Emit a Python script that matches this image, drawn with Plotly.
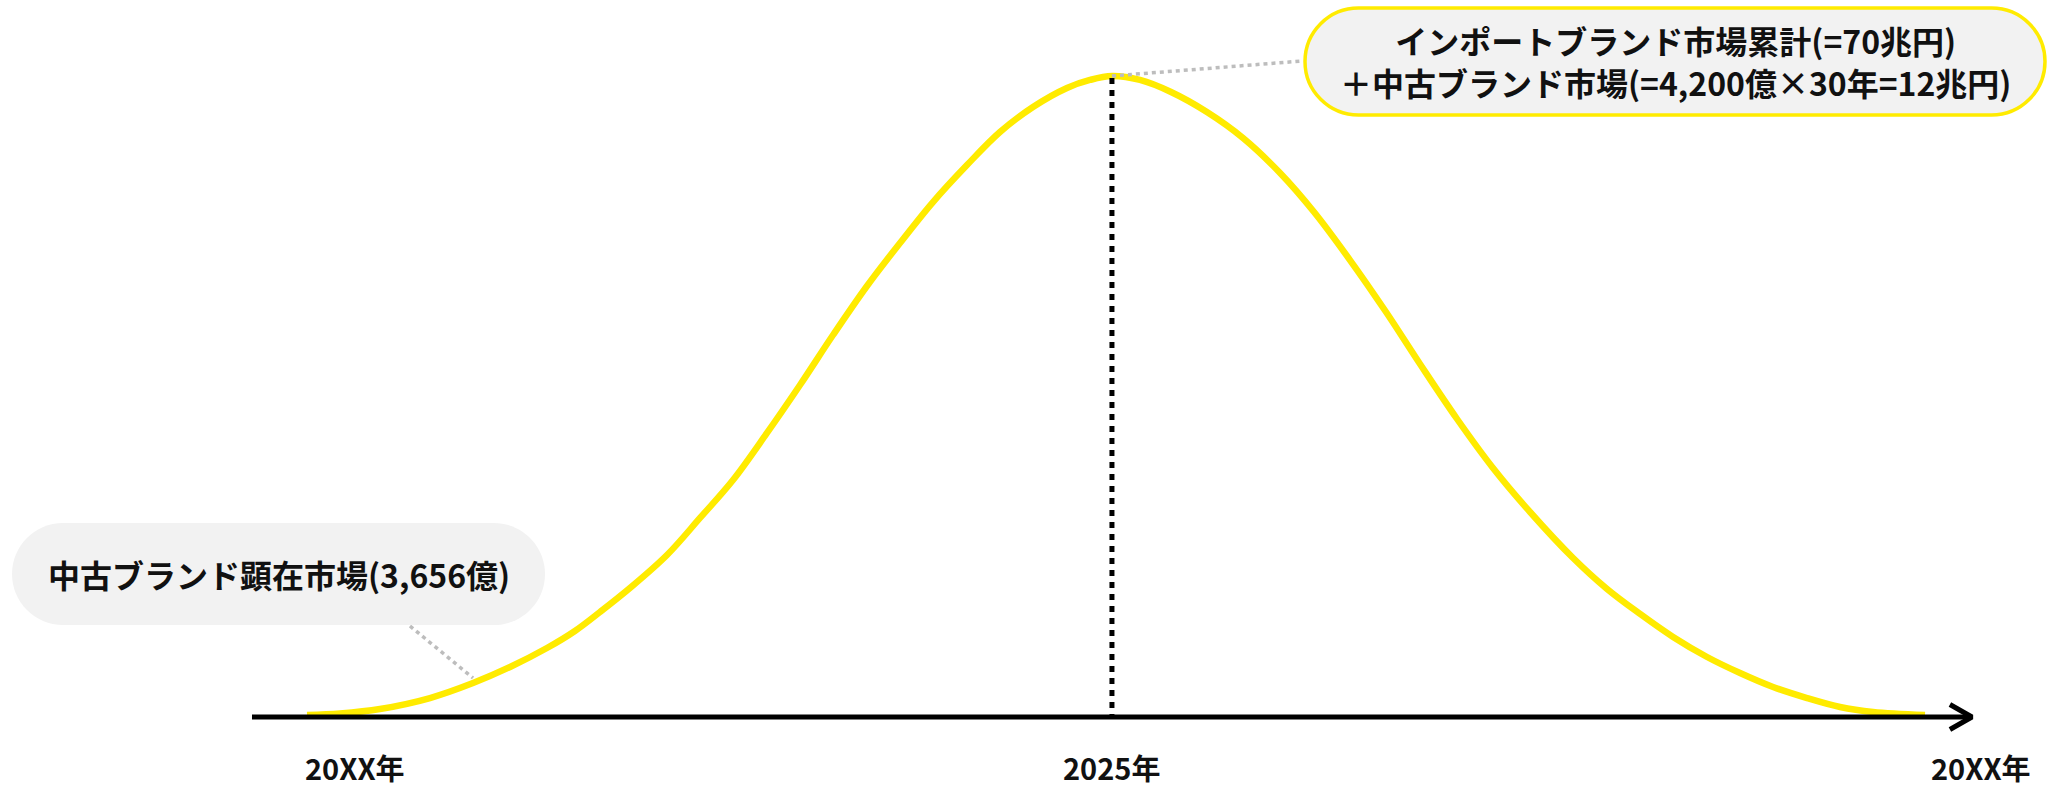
import plotly.graph_objects as go

W, H = 2047, 787

# ---- data (relative time index; relative market size, peak = 100) ----
time_idx = [0, 2.04, 4.51, 7.60, 10.26, 12.55, 14.83, 16.56, 18.11, 19.96, 22.25, 24.29,
            26.33, 28.43, 30.47, 32.51, 34.61, 36.65, 38.69, 40.79, 42.83, 44.87, 46.97,
            48.39, 49.75, 51.48, 53.40, 55.62, 57.85, 60.14, 62.24, 64.46, 66.69, 68.79,
            71.08, 73.30, 75.59, 78.25, 80.35, 82.39, 84.43, 86.53, 88.57, 90.61, 92.71,
            94.75, 96.79, 100]
market_size = [0.31, 0.55, 1.25, 2.96, 5.30, 7.80, 10.76, 13.42, 16.38, 20.12, 25.27, 31.05,
               36.97, 44.31, 51.79, 59.59, 67.24, 73.95, 80.34, 86.11, 91.26, 95.16, 98.13,
               99.38, 100, 99.38, 97.50, 94.38, 90.33, 84.87, 78.78, 71.29, 63.18, 55.07,
               46.49, 38.85, 31.98, 24.80, 19.97, 16.07, 12.48, 9.36, 6.86, 4.68, 2.96,
               1.56, 0.78, 0.31]
peak_time = 49.75
peak_value = 100
tick_times = [2.97, 49.75, 103.46]
tick_labels = ["20XX年", "2025年", "20XX年"]
axis_start, axis_end = -3.40, 102.90
left_label = "中古ブランド顕在市場(3,656億)"
right_label = ["インポートブランド市場累計(=70兆円)", "＋中古ブランド市場(=4,200億×30年=12兆円)"]

# ---- pixel <-> data helpers (layout only) ----
X0, KX = 307.0, 16.18
Y0, KY = 717.0, 6.41
def dx(px):
    return (px - X0) / KX
def dy(py):
    return (Y0 - py) / KY

YELLOW = "#FFEB00"
FONT = "Noto Sans CJK JP"

fig = go.Figure()

# curve
fig.add_trace(go.Scatter(x=time_idx, y=market_size, mode="lines",
                         line=dict(color=YELLOW, width=6.5, shape="spline", smoothing=1.0,
                                   simplify=False),
                         hoverinfo="skip"))

# baseline axis
fig.add_trace(go.Scatter(x=[axis_start, axis_end], y=[0, 0], mode="lines",
                         line=dict(color="black", width=5), hoverinfo="skip"))
# arrow head
fig.add_trace(go.Scatter(x=[axis_end - (1972 - 1950) / KX, axis_end, axis_end - (1972 - 1950) / KX],
                         y=[12.5 / KY, 0, -12.5 / KY], mode="lines",
                         line=dict(color="black", width=5), hoverinfo="skip"))

# vertical dotted line at peak
fig.add_trace(go.Scatter(x=[peak_time, peak_time], y=[peak_value - 0.3, 0], mode="lines",
                         line=dict(color="black", width=5, dash="6px,6px"), hoverinfo="skip"))

# gray connectors
fig.add_trace(go.Scatter(x=[dx(410), dx(473)], y=[dy(626), dy(678)], mode="lines",
                         line=dict(color="#BDBDBD", width=3.5, dash="4px,4px"), hoverinfo="skip"))
fig.add_trace(go.Scatter(x=[peak_time, dx(1302)], y=[peak_value, dy(61)], mode="lines",
                         line=dict(color="#BDBDBD", width=3.5, dash="4px,4px"), hoverinfo="skip"))


def pill(x0, y0, x1, y1):
    r = (y1 - y0) / 2.0
    k = 0.5523 * r
    pts = [
        ("M", [(x0 + r, y0)]),
        ("L", [(x1 - r, y0)]),
        ("C", [(x1 - r + k, y0), (x1, y0 + r - k), (x1, y0 + r)]),
        ("C", [(x1, y0 + r + k), (x1 - r + k, y1), (x1 - r, y1)]),
        ("L", [(x0 + r, y1)]),
        ("C", [(x0 + r - k, y1), (x0, y0 + r + k), (x0, y0 + r)]),
        ("C", [(x0, y0 + r - k), (x0 + r - k, y0), (x0 + r, y0)]),
    ]
    s = ""
    for cmd, ps in pts:
        s += cmd + " " + " ".join(f"{dx(a):.4f},{dy(b):.4f}" for a, b in ps) + " "
    return s + "Z"

fig.add_shape(type="path", path=pill(12, 523, 545, 625), xref="x", yref="y",
              fillcolor="#F2F2F2", line=dict(width=0), layer="above")
fig.add_shape(type="path", path=pill(1305, 8, 2045, 115), xref="x", yref="y",
              fillcolor="#F2F2F2", line=dict(color=YELLOW, width=3.5), layer="above")

fig.add_annotation(x=dx(279), y=dy(574), text=left_label, showarrow=False,
                   font=dict(family=FONT, size=32, color="#111", weight="bold"),
                   xanchor="center", yanchor="middle")
fig.add_annotation(x=dx(1675), y=dy(61), text="<br>".join(right_label), showarrow=False,
                   font=dict(family=FONT, size=32, color="#111", weight="bold"),
                   xanchor="center", yanchor="middle", align="center")

for t, lab in zip(tick_times, tick_labels):
    fig.add_annotation(x=t, y=dy(767), text=lab, showarrow=False,
                       font=dict(family=FONT, size=29, color="#111", weight="bold"),
                       xanchor="center", yanchor="middle")

fig.update_layout(
    width=W, height=H, margin=dict(l=0, r=0, t=0, b=0),
    paper_bgcolor="white", plot_bgcolor="white", showlegend=False, hovermode=False,
    xaxis=dict(range=[dx(0), dx(W)], visible=False, fixedrange=True),
    yaxis=dict(range=[dy(H), dy(0)], visible=False, fixedrange=True),
)

fig.write_html("out.html", config={"displayModeBar": False, "staticPlot": True},
               post_script="document.body.style.margin='0';document.body.style.overflow='hidden';")
